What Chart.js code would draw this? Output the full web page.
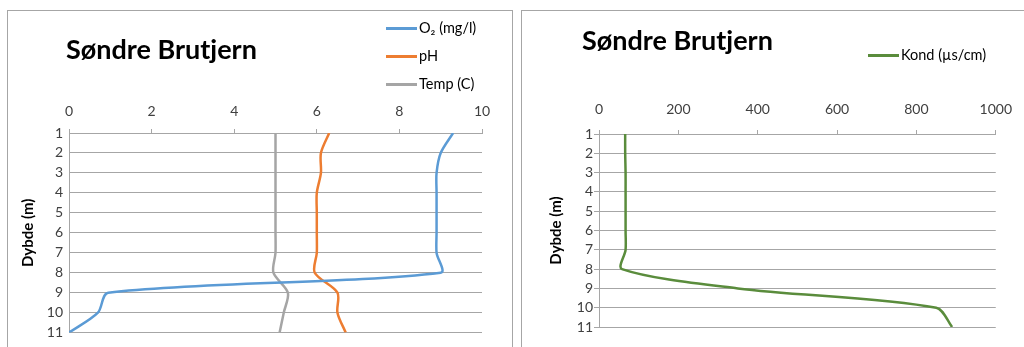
<!DOCTYPE html>
<html>
<head>
<meta charset="utf-8">
<script src="https://cdn.jsdelivr.net/npm/chart.js@4"></script>
<style>
  html, body { margin: 0; padding: 0; background: #fff; }
  body { width: 1024px; height: 347px; overflow: hidden; position: relative; font-family: Lato, "DejaVu Sans", sans-serif; }
  .frame { position: absolute; border: 1px solid #a6a6a6; box-sizing: border-box; }
  canvas { position: absolute; top: 0; }
  .title { position: absolute; font-weight: bold; font-size: 27px; line-height: 1.2; color: #000; white-space: nowrap; }
  .leg { position: absolute; font-size: 14.5px; line-height: 16px; color: #000; white-space: nowrap; }
  .leg i { position: absolute; height: 2.5px; top: 7px; }
</style>
</head>
<body>
<div class="frame" style="left:7px;top:10px;width:506px;height:400px"></div>
<div class="frame" style="left:521px;top:10px;width:600px;height:400px"></div>
<canvas id="left" width="512" height="347" style="left:0"></canvas>
<canvas id="right" width="512" height="347" style="left:512px"></canvas>
<div class="title" style="left:66px;top:33px">Søndre Brutjern</div>
<div class="title" style="left:582px;top:24px">Søndre Brutjern</div>
<div id="legLeft"></div>
<div id="legRight"></div>
<script>
// depth profile, values
const depths = [1, 2, 3, 4, 5, 6, 7, 8, 9, 10, 11];
const o2   = [9.3, 9.0, 8.9, 8.9, 8.9, 8.9, 8.9, 9.0, 0.95, 0.7, 0];
const ph   = [6.3, 6.1, 6.1, 6.0, 6.0, 6.0, 6.0, 5.95, 6.5, 6.5, 6.7];
const temp = [5.0, 5.0, 5.0, 5.0, 5.0, 5.0, 5.0, 4.95, 5.3, 5.2, 5.1];
const kond = [66, 66, 67, 67, 67, 67, 67, 58, 350, 850, 890];

const leftTicks = [0, 2, 4, 6, 8, 10];
const rightTicks = [0, 200, 400, 600, 800, 1000];

const leftSeries = [
  { label: "O₂ (mg/l)", values: o2, color: "#5b9bd5" },
  { label: "pH", values: ph, color: "#ed7d31" },
  { label: "Temp (C)", values: temp, color: "#a5a5a5" }
];
const rightSeries = [
  { label: "Kond (µs/cm)", values: kond, color: "#5a8c3c" }
];

Chart.defaults.font.family = "Lato, 'DejaVu Sans', sans-serif";
Chart.defaults.color = "#404040";
const GRID = "#a6a6a6";

const toPoints = vals => vals.map((v, i) => ({ x: v, y: depths[i] }));

function makeChart(id, series, xTicks, o) {
  return new Chart(document.getElementById(id), {
    type: "scatter",
    data: {
      datasets: series.map(s => ({
        label: s.label,
        data: toPoints(s.values),
        showLine: true,
        borderColor: s.color,
        backgroundColor: s.color,
        borderWidth: 2.5,
        pointRadius: 0,
        tension: 0.3
      }))
    },
    options: {
      responsive: false,
      animation: false,
      layout: { padding: o.pad },
      plugins: { legend: { display: false }, tooltip: { enabled: false } },
      scales: {
        x: {
          type: "linear", position: "top",
          min: xTicks[0], max: xTicks[xTicks.length - 1],
          afterBuildTicks: sc => { sc.ticks = xTicks.map(v => ({ value: v })); },
          afterFit: sc => { sc.height = o.xH; },
          ticks: { font: { size: 14 }, padding: o.xPad, maxRotation: 0, autoSkip: false, callback: v => String(v) },
          grid: { drawOnChartArea: false, drawTicks: true, tickLength: 4, color: GRID },
          border: { display: true, color: GRID }
        },
        y: {
          type: "linear", reverse: true,
          min: depths[0], max: depths[depths.length - 1],
          afterBuildTicks: sc => { sc.ticks = depths.map(v => ({ value: v })); },
          afterFit: sc => { sc.width = o.yW; },
          ticks: { font: { size: 14 }, padding: o.yPad, autoSkip: false, callback: v => String(v) },
          grid: { color: GRID, drawTicks: o.yTicks, tickLength: 5 },
          border: { display: true, color: GRID },
          title: { display: true, text: "Dybde (m)", color: "#000", font: { size: 15, weight: "bold" } }
        }
      }
    }
  });
}

makeChart("left", leftSeries, leftTicks, {
  pad: { left: 15, top: 0, right: 30, bottom: 10 }, xH: 133, yW: 54, xPad: 9, yPad: 6, yTicks: false
});
makeChart("right", rightSeries, rightTicks, {
  pad: { left: 31, top: 0, right: 21, bottom: 20 }, xH: 134, yW: 56, xPad: 12, yPad: 1, yTicks: true
});

function buildLegend(elId, series, x, ys) {
  const box = document.getElementById(elId);
  series.forEach((s, i) => {
    const d = document.createElement("div");
    d.className = "leg";
    d.style.left = (x + 33) + "px";
    d.style.top = (ys[i] - 8) + "px";
    d.textContent = s.label;
    const ln = document.createElement("i");
    ln.style.left = "-33px";
    ln.style.width = "31px";
    ln.style.background = s.color;
    d.appendChild(ln);
    box.appendChild(d);
  });
}
buildLegend("legLeft", leftSeries, 386, [28, 56, 84]);
buildLegend("legRight", rightSeries, 868, [55]);
</script>
</body>
</html>
